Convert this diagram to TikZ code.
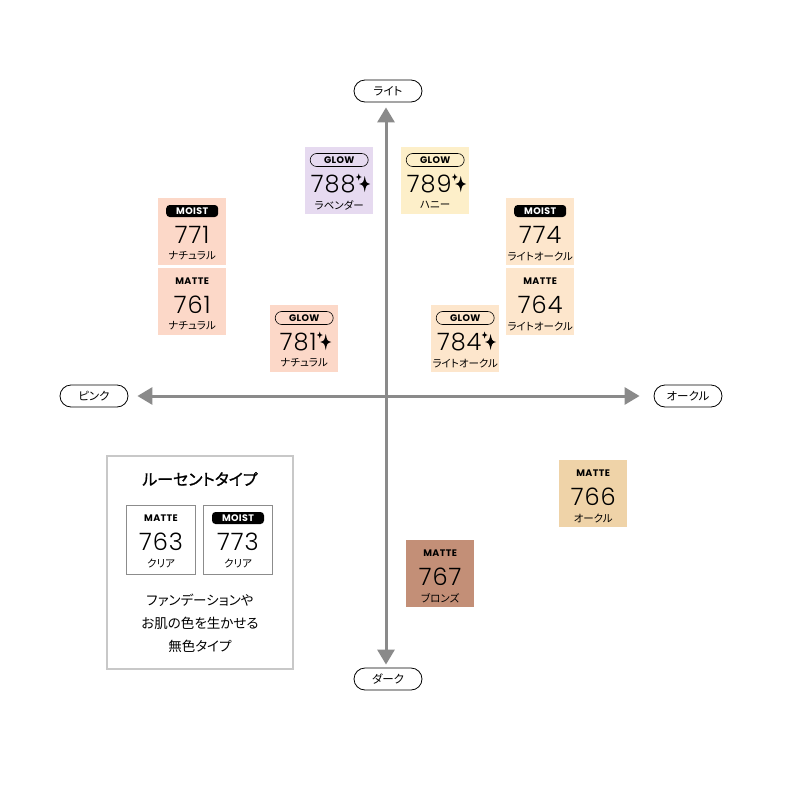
\documentclass[tikz,border=0pt]{standalone}
\usepackage{fontspec}
\usetikzlibrary{arrows.meta,positioning}
\setmainfont{Noto Sans CJK JP}[RawFeature=+palt]
\newfontfamily\titlefamily{Noto Sans CJK JP}[FakeBold=1.2,RawFeature=+palt]
\newfontfamily\tagfamily{Poppins}[LetterSpace=4]
\newfontfamily\numfamily{Poppins Light}[LetterSpace=4]

\definecolor{axisgray}{HTML}{8A8A8A}
\definecolor{framegray}{HTML}{C8C8C8}
\definecolor{boxgray}{HTML}{8C8C8C}
\definecolor{lavender}{HTML}{E6DAF0}
\definecolor{honey}{HTML}{FDEFC9}
\definecolor{natural}{HTML}{FCD8C8}
\definecolor{lightochre}{HTML}{FDE6CC}
\definecolor{ochre}{HTML}{EFD3A8}
\definecolor{bronze}{HTML}{C38F77}

\tikzset{
  axis/.style={draw=axisgray, line width=3pt, {Triangle[length=15pt,width=17pt]}-{Triangle[length=15pt,width=17pt]}},
  pill/.style={draw, line width=0.8pt, rounded corners=11pt, minimum width=68pt,
    minimum height=22pt, inner sep=0pt, font=\fontsize{11.5}{12}\selectfont},
  swatch/.style={anchor=north west, minimum width=68pt, minimum height=67pt, inner sep=0pt},
  lucent/.style={swatch, fill=white, draw=boxgray, line width=1pt, minimum width=69pt, minimum height=69pt},
  tagmoist/.style={fill=black, text=white, rounded corners=3.5pt, minimum width=52pt,
    minimum height=12pt, inner sep=0pt, font=\tagfamily\bfseries\fontsize{9.5}{10}\selectfont},
  tagglow/.style={draw=black, line width=0.6pt, rounded corners=6.5pt, minimum width=58pt,
    minimum height=13pt, inner sep=0pt, font=\tagfamily\bfseries\fontsize{9.5}{10}\selectfont},
  tagmatte/.style={inner sep=0pt, font=\tagfamily\bfseries\fontsize{9.5}{10}\selectfont},
  num/.style={inner sep=0pt, font=\numfamily\fontsize{24}{26}\selectfont},
  numglow/.style={xshift=-6pt}, nummoist/.style={}, nummatte/.style={},
  shade/.style={inner sep=0pt, font=\fontsize{10.5}{12}\selectfont},
  note/.style={inner sep=0pt, font=\fontsize{13.5}{15}\selectfont}
}

% name, x, y, style, tag kind, tag text, number, shade name
\newcommand{\swatch}[8]{%
  \node[#4] (#1) at (#2,#3) {};
  \node[tag#5] (#1-tag) at ([yshift=-13pt]#1.north) {#6};
  \node[num,num#5] (#1-num) at ([yshift=-37pt]#1.north) {#7};
  \node[shade] (#1-name) at ([yshift=-58pt]#1.north) {#8};
}
\newcommand{\sparkle}[1]{%
  \path ([xshift=9pt]#1-num.east) coordinate (#1-s1) ([xshift=3pt,yshift=7pt]#1-num.east) coordinate (#1-s2);
  \fill[shift={(#1-s1)}] (0,8) .. controls (1.3,1.3) .. (5.5,0) .. controls (1.3,-1.3) .. (0,-8)
    .. controls (-1.3,-1.3) .. (-5.5,0) .. controls (-1.3,1.3) .. cycle;
  \fill[shift={(#1-s2)}] (0,3.5) .. controls (0.6,0.6) .. (3,0) .. controls (0.6,-0.6) .. (0,-3.5)
    .. controls (-0.6,-0.6) .. (-3,0) .. controls (-0.6,0.6) .. cycle;
}

\begin{document}
\begin{tikzpicture}[x=1pt,y=-1pt]
  \useasboundingbox (0,0) rectangle (787,787);

  % axes
  \node[pill] (light) at (388,91) {ライト};
  \node[pill] (dark) at (388,679) {ダーク};
  \node[pill] (pink) at (94,396) {ピンク};
  \node[pill] (ochre) at (688,396) {オークル};
  \draw[axis, shorten <=5pt, shorten >=3pt] (light.south -| 386,0) -- (dark.north -| 386,0);
  \draw[axis, shorten <=9pt, shorten >=14pt] (pink.east) -- (ochre.west);

  % shades
  \swatch{b788}{305}{147}{swatch,fill=lavender}{glow}{GLOW}{788}{ラベンダー}
  \swatch{b789}{401}{147}{swatch,fill=honey}{glow}{GLOW}{789}{ハニー}
  \swatch{b771}{158}{198}{swatch,fill=natural}{moist}{MOIST}{771}{ナチュラル}
  \swatch{b761}{158}{268}{swatch,fill=natural}{matte}{MATTE}{761}{ナチュラル}
  \swatch{b774}{506}{198}{swatch,fill=lightochre}{moist}{MOIST}{774}{ライトオークル}
  \swatch{b764}{506}{268}{swatch,fill=lightochre}{matte}{MATTE}{764}{ライトオークル}
  \swatch{b781}{270}{305}{swatch,fill=natural}{glow}{GLOW}{781}{ナチュラル}
  \swatch{b784}{431}{305}{swatch,fill=lightochre}{glow}{GLOW}{784}{ライトオークル}
  \swatch{b766}{559}{460}{swatch,fill=ochre}{matte}{MATTE}{766}{オークル}
  \swatch{b767}{406}{540}{swatch,fill=bronze}{matte}{MATTE}{767}{ブロンズ}
  \sparkle{b788}
  \sparkle{b789}
  \sparkle{b781}
  \sparkle{b784}

  % lucent type
  \draw[framegray, line width=2pt] (107,456) rectangle (293,669);
  \node[inner sep=0pt, font=\titlefamily\fontsize{16}{17}\selectfont] (lucent) at (200,479) {ルーセントタイプ};
  \swatch{b763}{126}{505}{lucent}{matte}{MATTE}{763}{クリア}
  \swatch{b773}{203}{505}{lucent}{moist}{MOIST}{773}{クリア}
  \node[note] (line1) at (200,600) {ファンデーションや};
  \node[note] (line2) at (200,623) {お肌の色を生かせる};
  \node[note] (line3) at (200,646) {無色タイプ};
\end{tikzpicture}
\end{document}
